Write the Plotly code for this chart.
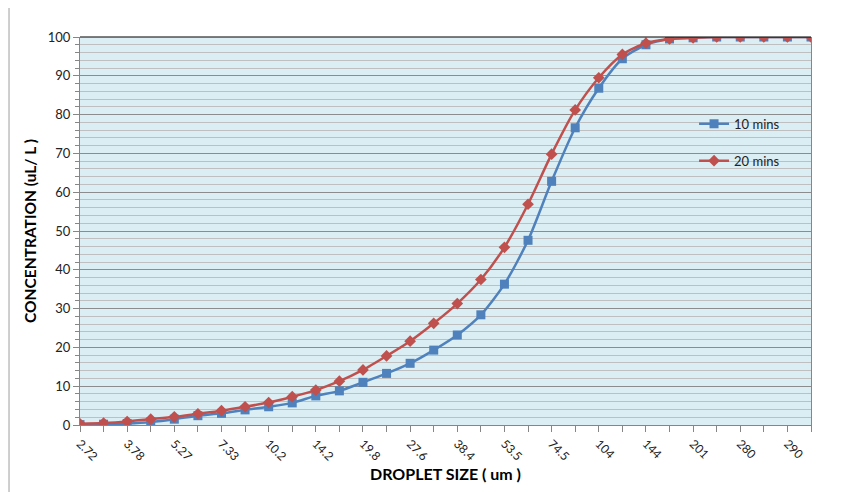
import plotly.graph_objects as go

sizes = ["2.72", "3.21", "3.78", "4.46", "5.27", "6.21", "7.33", "8.65", "10.2", "12.0",
         "14.2", "16.7", "19.8", "23.3", "27.6", "32.5", "38.4", "45.3", "53.5", "63.1",
         "74.5", "87.9", "104", "122", "144", "170", "201", "237", "280", "285", "290", "300"]
labelled = [s if i % 2 == 0 else "" for i, s in enumerate(sizes)]

conc_10 = [0.1, 0.2, 0.4, 0.8, 1.5, 2.4, 3.0, 3.9, 4.7, 5.7,
           7.5, 8.8, 11.0, 13.3, 15.9, 19.3, 23.2, 28.4, 36.3, 47.6,
           62.8, 76.6, 86.8, 94.4, 98.0, 99.5, 99.8, 100, 100, 100, 100, 100]
conc_20 = [0.3, 0.5, 0.9, 1.5, 2.1, 2.9, 3.7, 4.7, 5.8, 7.3,
           9.0, 11.3, 14.2, 17.8, 21.6, 26.2, 31.3, 37.5, 45.8, 56.9,
           69.8, 81.2, 89.5, 95.5, 98.4, 99.5, 99.8, 100, 100, 100, 100, 100]

FONT = "Lato, 'Liberation Sans', sans-serif"

fig = go.Figure()
fig.add_trace(go.Scatter(
    x=sizes, y=conc_10, name="10 mins", legendgroup="a",
    mode="lines+markers", line=dict(color="#4F81BD", width=2.5, shape="spline", smoothing=0.7),
    marker=dict(symbol="square", size=9, color="#4F81BD")))
fig.add_trace(go.Scatter(
    x=sizes, y=conc_20, name="20 mins", legendgroup="b",
    mode="lines+markers", line=dict(color="#C0504D", width=2.5, shape="spline", smoothing=0.7),
    marker=dict(symbol="diamond", size=9, color="#C0504D")))

fig.update_layout(
    width=844, height=484,
    margin=dict(l=72, r=41, t=29, b=67),
    paper_bgcolor="white", plot_bgcolor="#DAEEF3",
    font=dict(family=FONT, size=12, color="#000000"),
    showlegend=True,
    legend=dict(x=0.84, y=0.815, xanchor="left", yanchor="top",
                bgcolor="rgba(0,0,0,0)", tracegroupgap=17,
                font=dict(family=FONT, size=13, color="#222")),
    xaxis=dict(
        type="category", range=[0, len(sizes) - 1],
        tickmode="array", tickvals=sizes, ticktext=labelled, tickangle=45,
        ticks="outside", ticklen=6, tickcolor="#868686",
        showline=True, linecolor="#868686", linewidth=1,
        showgrid=False, zeroline=False,
        tickfont=dict(family=FONT, size=12, color="#222"),
        title=dict(text="<b>DROPLET SIZE ( um )</b>", font=dict(family=FONT, size=16), standoff=4),
    ),
    yaxis=dict(
        range=[0, 100], dtick=10, tick0=0,
        ticks="outside", ticklen=6, tickcolor="#868686",
        showline=True, linecolor="#868686", linewidth=1, mirror=True,
        showgrid=True, gridcolor="#8C8C8C", gridwidth=1, zeroline=False,
        minor=dict(dtick=2, showgrid=True, gridcolor="#BFBFBF", gridwidth=1,
                   ticks="outside", ticklen=4, tickcolor="#868686"),
        tickfont=dict(family=FONT, size=13, color="#222"),
        title=dict(text="<b>CONCENTRATION (uL/ L )</b>", font=dict(family=FONT, size=15.5), standoff=7),
    ),
    shapes=[
        dict(type="line", xref="paper", yref="paper", x0=0, x1=1, y0=1, y1=1,
             line=dict(color="black", width=1.2)),
        dict(type="line", xref="paper", yref="paper", x0=-0.0971, x1=-0.0971, y0=-0.2, y1=1.1,
             line=dict(color="#BFBFBF", width=1.5)),
    ],
)

fig.write_html("out.html")
